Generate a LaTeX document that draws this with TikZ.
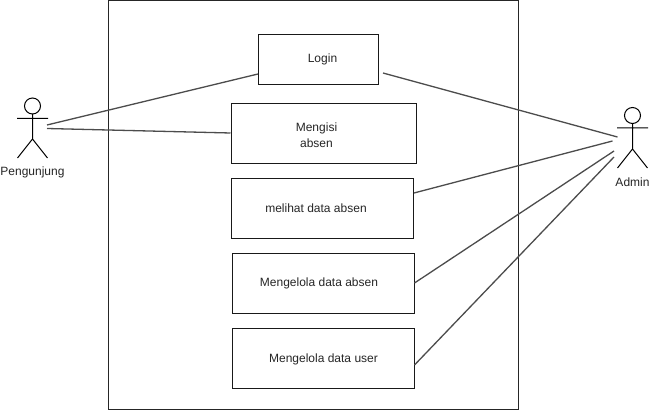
\documentclass[tikz,border=0pt]{standalone}
\usepackage{fontspec}
\setmainfont{Liberation Sans}
\begin{document}
\begin{tikzpicture}[x=1pt,y=-1pt,
  boxn/.style={draw=black!90,line width=1pt,fill=white,inner sep=0pt},
  txt/.style={font=\fontsize{12}{16}\selectfont,align=center,inner sep=0pt,text=black!85},
  conn/.style={draw=black!70,line width=1.3pt},
  stick/.style={draw=black,line width=1pt},
  lbl/.style={font=\fontsize{12}{14}\selectfont,inner sep=0pt,text=black!85}]
\useasboundingbox (0,0) rectangle (649,411);
\fill[white] (0,0) rectangle (649,411);
\node[draw=black!85,line width=1.1pt,minimum width=410pt,minimum height=409.5pt,inner sep=0pt] (sys) at (313.5,205.2) {};
\node[boxn,minimum width=120pt,minimum height=50pt] (login) at (318.5,59.5) {};
\node[boxn,minimum width=185pt,minimum height=60pt] (isi) at (323.5,133.5) {};
\node[boxn,minimum width=182pt,minimum height=60pt] (lihat) at (322.5,208.5) {};
\node[boxn,minimum width=182pt,minimum height=60pt] (kabsen) at (323,283.5) {};
\node[boxn,minimum width=182pt,minimum height=60pt] (kuser) at (323,358.5) {};
\node[txt] (tlogin) at (322.5,59.5) {Login};
\node[txt] (tisi) at (316.5,135) {Mengisi\\absen};
\node[txt] (tlihat) at (316,208.5) {melihat data absen};
\node[txt] (tkabsen) at (319,283.5) {Mengelola data absen};
\node[txt] (tkuser) at (323.5,359) {Mengelola data user};
% Pengunjung actor
\draw[stick] (32.5,106) circle (8);
\draw[stick] (32.5,114) -- (32.5,139) (17,118.5) -- (48,118.5) (32.5,139) -- (17.5,158) (32.5,139) -- (47.5,158);
\node[lbl] (pg) at (32.5,172.5) {Pengunjung};
% Admin actor
\draw[stick] (632.5,115.5) circle (8);
\draw[stick] (632.5,123.5) -- (632.5,149) (617,128) -- (648,128) (632.5,149) -- (617.5,168) (632.5,149) -- (647.5,168);
\node[lbl] (ad) at (632.5,182) {Admin};
\coordinate (pa) at (47,125);
\coordinate (pb) at (47,128.5);
\coordinate (aa) at (617.5,137);
\coordinate (ab) at (612.5,141);
\coordinate (ac) at (614,151);
\coordinate (ad1) at (614,157);
\draw[conn] (pa) -- (login.west |- 0,74);
\draw[conn] (pb) -- (isi.west |- 0,133);
\draw[conn] (383,73) -- (aa);
\draw[conn] (lihat.east |- 0,193) -- (ab);
\draw[conn] (kabsen.east |- 0,283) -- (ac);
\draw[conn] (kuser.east |- 0,365) -- (ad1);
\end{tikzpicture}
\end{document}
